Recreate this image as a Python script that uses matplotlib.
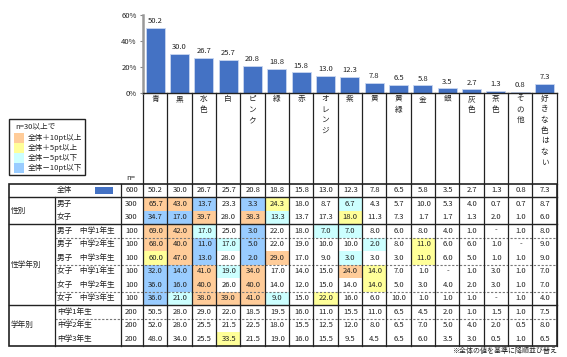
import matplotlib
matplotlib.use('Agg')
import matplotlib.pyplot as plt
from matplotlib.patches import Rectangle

plt.rcParams['font.family'] = ['Noto Sans CJK JP', 'DejaVu Sans']

CATEGORIES = ['青', '黒', '水色', '白', 'ピンク', '緑', '赤', 'オレンジ', '紫', '黄',
              '黄緑', '金', '銀', '灰色', '茶色', 'その他', '好きな色はない']
TOTAL_N = 600
TOTAL = [50.2, 30.0, 26.7, 25.7, 20.8, 18.8, 15.8, 13.0, 12.3, 7.8, 6.5, 5.8, 3.5, 2.7, 1.3, 0.8, 7.3]

GROUPS = ['性別', '性学年別', '学年別']
ROW_LABELS = [
    ['男子', '女子'],
    ['男子　中学1年生', '男子　中学2年生', '男子　中学3年生',
     '女子　中学1年生', '女子　中学2年生', '女子　中学3年生'],
    ['中学1年生', '中学2年生', '中学3年生'],
]
ROW_N = [[300, 300], [100, 100, 100, 100, 100, 100], [200, 200, 200]]
ROW_VALUES = [
    [
        [65.7, 43.0, 13.7, 23.3, 3.3, 24.3, 18.0, 8.7, 6.7, 4.3, 5.7, 10.0, 5.3, 4.0, 0.7, 0.7, 8.7],
        [34.7, 17.0, 39.7, 28.0, 38.3, 13.3, 13.7, 17.3, 18.0, 11.3, 7.3, 1.7, 1.7, 1.3, 2.0, 1.0, 6.0],
    ],
    [
        [69.0, 42.0, 17.0, 25.0, 3.0, 22.0, 18.0, 7.0, 7.0, 8.0, 6.0, 8.0, 4.0, 1.0, None, 1.0, 8.0],
        [68.0, 40.0, 11.0, 17.0, 5.0, 22.0, 19.0, 10.0, 10.0, 2.0, 8.0, 11.0, 6.0, 6.0, 1.0, None, 9.0],
        [60.0, 47.0, 13.0, 28.0, 2.0, 29.0, 17.0, 9.0, 3.0, 3.0, 3.0, 11.0, 6.0, 5.0, 1.0, 1.0, 9.0],
        [32.0, 14.0, 41.0, 19.0, 34.0, 17.0, 14.0, 15.0, 24.0, 14.0, 7.0, 1.0, None, 1.0, 3.0, 1.0, 7.0],
        [36.0, 16.0, 40.0, 26.0, 40.0, 14.0, 12.0, 15.0, 14.0, 14.0, 5.0, 3.0, 4.0, 2.0, 3.0, 1.0, 7.0],
        [36.0, 21.0, 38.0, 39.0, 41.0, 9.0, 15.0, 22.0, 16.0, 6.0, 10.0, 1.0, 1.0, 1.0, None, 1.0, 4.0],
    ],
    [
        [50.5, 28.0, 29.0, 22.0, 18.5, 19.5, 16.0, 11.0, 15.5, 11.0, 6.5, 4.5, 2.0, 1.0, 1.5, 1.0, 7.5],
        [52.0, 28.0, 25.5, 21.5, 22.5, 18.0, 15.5, 12.5, 12.0, 8.0, 6.5, 7.0, 5.0, 4.0, 2.0, 0.5, 8.0],
        [48.0, 34.0, 25.5, 33.5, 21.5, 19.0, 16.0, 15.5, 9.5, 4.5, 6.5, 6.0, 3.5, 3.0, 0.5, 1.0, 6.5],
    ],
]
# rows after which a dotted separator is visible, per group
DASHED_AFTER = [[], [0, 2, 4], [0]]

LEGEND_TITLE = 'n=30以上で'
LEGEND_LABELS = ['全体＋10pt以上', '全体＋5pt以上', '全体－5pt以下', '全体－10pt以下']
LEGEND_COLORS = ['#FFCC99', '#FFFF99', '#CCFFFF', '#99CCFF']
FOOTNOTE = '※全体の値を基準に降順並び替え'

BAR_COLOR = '#4472C4'
TEXT_COLOR = '#222222'
LINE_COLOR = '#222222'
FS = 5.5

# layout in pixels
W, H = 567, 357
X0, X1 = 143, 556.7
Y_TOP, Y_BASE = 15, 93
TABLE_TOP, ROW_H = 183.5, 13.5
TABLE_LEFT, LABEL_SPLIT, N_LEFT = 9, 55, 120.5


def cell_color(v, base, n):
    # Highlight cells that differ from the overall value.
    if v is None or n < 30:
        return None
    d = round(v - base, 1)
    if d >= 10:
        return LEGEND_COLORS[0]
    if d >= 5:
        return LEGEND_COLORS[1]
    if d <= -10:
        return LEGEND_COLORS[3]
    if d <= -5:
        return LEGEND_COLORS[2]
    return None


def fmt(v):
    return '-' if v is None else f'{v:.1f}'


fig = plt.figure(figsize=(W / 100, H / 100), dpi=100)

# table / header layer in pixel coordinates
ax_t = fig.add_axes([0, 0, 1, 1])
ax_t.set_xlim(0, W)
ax_t.set_ylim(H, 0)
ax_t.axis('off')

ncol = len(CATEGORIES)
col_w = (X1 - X0) / ncol
edges = [X0 + i * col_w for i in range(ncol + 1)]
centers = [X0 + (i + 0.5) * col_w for i in range(ncol)]

# header: column separators and stacked category names
for x in edges:
    ax_t.plot([x, x], [Y_BASE, TABLE_TOP], color=LINE_COLOR, lw=0.9)
for i, name in enumerate(CATEGORIES):
    for k, ch in enumerate(name):
        ax_t.text(centers[i], 99 + k * 10.6, ch, ha='center', va='center',
                  fontsize=FS, color=TEXT_COLOR)
ax_t.text(131, 178, 'n=', ha='center', va='center', fontsize=FS, color=TEXT_COLOR)

# legend box
ax_t.add_patch(Rectangle((9, 119), 76, 56, facecolor='white', edgecolor=LINE_COLOR, lw=1.0))
ax_t.text(15, 126.5, LEGEND_TITLE, ha='left', va='center', fontsize=FS, color=TEXT_COLOR)
for k, (lab, c) in enumerate(zip(LEGEND_LABELS, LEGEND_COLORS)):
    ax_t.add_patch(Rectangle((14, 133.3 + k * 10), 10, 9.4, facecolor=c, edgecolor='none'))
    ax_t.text(28, 138 + k * 10, lab, ha='left', va='center', fontsize=FS, color=TEXT_COLOR)

# table rows
n_rows = 1 + sum(len(r) for r in ROW_LABELS)
table_bottom = TABLE_TOP + n_rows * ROW_H

# overall row
y = TABLE_TOP + ROW_H / 2
ax_t.text(64.5, y, '全体', ha='center', va='center', fontsize=FS, color=TEXT_COLOR)
ax_t.add_patch(Rectangle((95, y - 3.3), 18, 6.6, facecolor=BAR_COLOR, edgecolor='none'))
ax_t.text(131.5, y, str(TOTAL_N), ha='center', va='center', fontsize=FS, color=TEXT_COLOR)
for i, v in enumerate(TOTAL):
    ax_t.text(centers[i] + 0.5, y, fmt(v), ha='center', va='center', fontsize=FS, color=TEXT_COLOR)

top = TABLE_TOP + ROW_H
group_bounds = []
for g, group in enumerate(GROUPS):
    g_top = top
    for r, label in enumerate(ROW_LABELS[g]):
        row_top = top + r * ROW_H
        yc = row_top + ROW_H / 2
        n = ROW_N[g][r]
        for i, v in enumerate(ROW_VALUES[g][r]):
            c = cell_color(v, TOTAL[i], n)
            if c:
                ax_t.add_patch(Rectangle((edges[i], row_top), col_w, ROW_H,
                                         facecolor=c, edgecolor='none', zorder=1))
            ax_t.text(centers[i] + 0.5, yc, fmt(v), ha='center', va='center',
                      fontsize=FS, color=TEXT_COLOR, zorder=3)
        ax_t.text(57, yc, label, ha='left', va='center', fontsize=FS, color=TEXT_COLOR)
        ax_t.text(131.5, yc, str(n), ha='center', va='center', fontsize=FS, color=TEXT_COLOR)
        if r in DASHED_AFTER[g]:
            ax_t.plot([LABEL_SPLIT, X1], [row_top + ROW_H] * 2, color='#777777',
                      lw=0.8, ls=(0, (2, 1.5)), zorder=2)
    top += len(ROW_LABELS[g]) * ROW_H
    ax_t.text(11, (g_top + top) / 2, group, ha='left', va='center', fontsize=FS, color=TEXT_COLOR)
    group_bounds.append(g_top)

# solid lines of the table
for yb in group_bounds:
    ax_t.plot([TABLE_LEFT, X1], [yb, yb], color=LINE_COLOR, lw=1.0, zorder=2)
ax_t.plot([LABEL_SPLIT, LABEL_SPLIT], [TABLE_TOP + ROW_H, table_bottom], color=LINE_COLOR, lw=0.9, zorder=2)
ax_t.plot([N_LEFT, N_LEFT], [TABLE_TOP, table_bottom], color=LINE_COLOR, lw=0.9, zorder=2)
for x in edges:
    ax_t.plot([x, x], [TABLE_TOP, table_bottom], color=LINE_COLOR, lw=0.9, zorder=2)
ax_t.add_patch(Rectangle((TABLE_LEFT, TABLE_TOP), X1 - TABLE_LEFT, table_bottom - TABLE_TOP,
                         fill=False, edgecolor=LINE_COLOR, lw=1.2, zorder=4))

ax_t.text(557, 351, FOOTNOTE, ha='right', va='center', fontsize=5, color=TEXT_COLOR)

# bar chart
ax = fig.add_axes([X0 / W, 1 - Y_BASE / H, (X1 - X0) / W, (Y_BASE - Y_TOP) / H])
ax.patch.set_alpha(0)
ax.bar(range(ncol), TOTAL, width=0.78, color=BAR_COLOR, edgecolor='#c9d6f0', linewidth=0.6)
for i, v in enumerate(TOTAL):
    ax.text(i, v + 2.2, f'{v:.1f}', ha='center', va='bottom', fontsize=FS, color=TEXT_COLOR)
ax.set_xlim(-0.5, ncol - 0.5)
ax.set_ylim(0, 60)
ax.set_yticks([0, 20, 40, 60])
ax.set_yticklabels([f'{t}%' for t in [0, 20, 40, 60]], fontsize=FS, color=TEXT_COLOR)
ax.set_xticks([])
ax.tick_params(axis='y', length=2.5, width=0.8, color='#888888', pad=2)
for s in ['top', 'right']:
    ax.spines[s].set_visible(False)
ax.spines['left'].set_color('#999999')
ax.spines['left'].set_linewidth(1.8)
ax.spines['bottom'].set_color(LINE_COLOR)
ax.spines['bottom'].set_linewidth(1.0)

fig.savefig('out.png', dpi=100)
